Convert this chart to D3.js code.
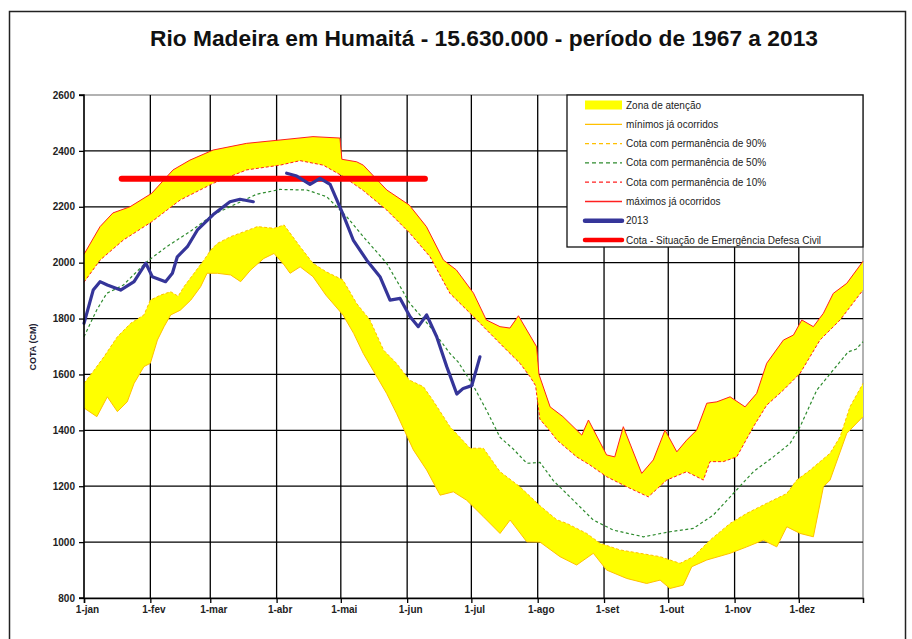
<!DOCTYPE html>
<html><head><meta charset="utf-8">
<script src="https://cdn.jsdelivr.net/npm/d3@7"></script>
<style>body{margin:0;background:#fff}svg{display:block}</style>
</head><body>
<svg id="c" width="912" height="639"></svg>
<script>
// ---------- data ----------
const titleText = "Rio Madeira  em Humaitá  - 15.630.000  - período  de 1967  a 2013";
const monthStarts = [0,31,59,90,120,151,181,212,243,273,304,334];
const monthLabels = ["1-jan","1-fev","1-mar","1-abr","1-mai","1-jun","1-jul","1-ago","1-set","1-out","1-nov","1-dez"];
const yTicks = [800,1000,1200,1400,1600,1800,2000,2200,2400,2600];

// máximos já ocorridos
const maxDays = [0,7.5,13.5,21.5,31.6,41.6,49.5,60.3,76,91.6,107,119.6,120.5,127.4,130.5,141.5,152,160,168,174,182,188,194.4,199,203,211.5,212.6,217.8,223.8,232.6,235.7,244.2,248,252,260.6,266,271.5,277,281.6,286.3,291,295.7,301.9,308.9,314.3,319,326.8,331.5,335.4,340.8,345.5,350.1,356.4,364];
const maxVals = [2030,2129,2178,2200,2248,2332,2367,2403,2427,2439,2451,2446,2370,2361,2349,2260,2206,2129,2009,1974,1891,1795,1771,1766,1810,1699,1600,1484,1449,1383,1437,1312,1305,1413,1246,1294,1401,1323,1365,1401,1497,1502,1520,1484,1532,1640,1723,1741,1795,1771,1819,1890,1926,2005];

// cota com permanência de 10%
const p10Days = [0,7.5,18.4,31.6,44.9,60.4,76,91.6,101,111.8,121.2,130.5,141.5,152.3,161.7,171,180.4,189.7,197.5,203.7,208.4,211,213,218,221,230.2,236.4,244.2,253.6,263.7,272.3,281.6,289.4,292.5,298.7,305,312.8,319,326.8,334.6,343.9,353.3,364];
const p10Vals = [1930,2009,2081,2146,2224,2284,2332,2349,2365,2349,2308,2258,2188,2105,2021,1890,1819,1747,1687,1640,1592,1560,1440,1395,1365,1305,1276,1234,1198,1162,1222,1252,1222,1288,1288,1305,1413,1490,1544,1604,1723,1795,1902];

// cota com permanência de 50%
const p50Days = [0,5.9,10.6,18.4,29.3,38.6,49.5,60.4,80.7,91.6,104.1,113.4,122.8,130.5,141.4,152.3,161.7,171,174.8,181.9,188.2,194.4,200.6,206.9,213.1,219.3,228.6,238,247.3,261.4,273.8,284.7,294.1,303.4,312.8,322.1,329.9,334.6,342.4,350.1,357.1,360.7,364];
const p50Vals = [1735,1830,1890,1920,2003,2057,2111,2172,2245,2262,2260,2236,2164,2093,1998,1854,1771,1675,1645,1560,1470,1375,1333,1282,1285,1220,1150,1079,1043,1019,1037,1049,1097,1174,1252,1305,1353,1413,1544,1616,1681,1690,1717];

// cota com permanência de 90%
const p90Days = [0,4.7,9.3,15.6,21.8,28,31,35.8,40.5,44,46.7,51.4,56,59.2,62.3,68.5,74.8,81,88.8,93.5,101,107,113,121,127.4,133.6,140,146,152,158.6,163,171,180.4,186.6,194.4,203.7,213.1,220.9,225.6,234.9,241.1,250.5,259.8,269.2,278.5,284.7,292.5,301.9,309.7,319,328.4,333,339.3,348.6,353.3,357.9,364];
const p90Vals = [1568,1615,1663,1735,1783,1813,1866,1884,1896,1880,1914,1962,2009,2045,2069,2093,2111,2129,2123,2135,2057,1998,1968,1938,1854,1795,1687,1640,1580,1556,1508,1413,1336,1336,1252,1198,1130,1080,1067,1031,996,972,960,948,924,948,1007,1067,1103,1139,1174,1222,1258,1318,1377,1484,1568];

// mínimos já ocorridos
const minDays = [0,6,10.9,15.6,20.2,23.4,28,31,34.3,37.4,40.5,45,49.9,54.5,57.5,62.3,68.5,73.2,77.9,84,88.8,93.5,96.3,101,107,113,121,126,130.5,135,141.4,146,153.9,160.1,166.4,172.6,178.8,186.6,194.4,199.1,206.9,213.1,222.4,230.2,238,244.2,253.6,262.9,269.2,273.8,280,284,291,301.9,309.7,317.4,323.7,328.4,334.6,340.8,345.5,348.6,356.4,364];
const minVals = [1480,1449,1520,1467,1502,1568,1628,1640,1723,1771,1813,1830,1866,1914,1962,1962,1956,1932,1974,2015,2033,1992,1962,1985,1950,1884,1813,1747,1675,1616,1532,1461,1330,1258,1168,1180,1150,1091,1031,1079,1001,1000,948,918,960,900,870,852,864,834,846,912,936,960,983,1007,983,1055,1031,1019,1198,1222,1389,1449];

// 2013 (null = sem dado)
const y2013Days = [0,4.3,7.5,10.9,17.1,23.4,28.9,31.9,38.1,41.3,43.6,48.3,53,60.4,68.2,72.9,79.1,87,94.7,99.4,105.6,110.3,115,121.2,125.8,132.1,138.3,143,147.7,152.3,156.2,160.1,164.8,169.5,174.2,177.2,181.2,185];
const y2013Vals = [1783,1902,1932,1920,1902,1932,1998,1950,1932,1962,2021,2057,2117,2172,2218,2227,2218,null,2320,2310,2280,2302,2280,2170,2081,2009,1950,1866,1872,1807,1771,1813,1735,1628,1530,1550,1560,1663];

// cota de emergência
const emergDays = [17.6,159.3];
const emergVals = [2300,2300];

const legendLabels = ["Zona de atenção","mínimos já ocorridos","Cota com permanência de 90%","Cota com permanência de 50%","Cota com permanência de 10%","máximos já ocorridos","2013","Cota - Situação de Emergência Defesa Civil"];

// ---------- drawing ----------
const svg = d3.select("#c");
const W = 912, H = 639;
const m = {l:84, r:863, t:95, b:598};
const x = d3.scaleLinear().domain([0,364]).range([m.l, m.r]);
const y = d3.scaleLinear().domain([800,2600]).range([m.b, m.t]);
const font = "'Liberation Sans', Arial, sans-serif";

svg.append("rect").attr("width",W).attr("height",H).attr("fill","#fff");
// outer frame
svg.append("rect").attr("x",9.5).attr("y",11.5).attr("width",896).attr("height",700)
  .attr("fill","none").attr("stroke","#222").attr("stroke-width",1.5);

svg.append("text").attr("x",484).attr("y",46).attr("text-anchor","middle")
  .attr("font-family",font).attr("font-size",22).attr("font-weight","bold")
  .attr("textLength",668).attr("lengthAdjust","spacingAndGlyphs")
  .attr("fill","#111").text(titleText);

// plot area border (grey)
svg.append("rect").attr("x",m.l).attr("y",m.t).attr("width",m.r-m.l).attr("height",m.b-m.t)
  .attr("fill","#fff").attr("stroke","#999").attr("stroke-width",1.5);

// grid
const g = svg.append("g");
g.selectAll(".hg").data(yTicks.filter(v=>v>800 && v<2600)).enter().append("line")
  .attr("x1",m.l).attr("x2",m.r).attr("y1",d=>y(d)).attr("y2",d=>y(d))
  .attr("stroke","#000").attr("stroke-width",1.3);
g.selectAll(".vg").data(monthStarts.slice(1)).enter().append("line")
  .attr("x1",d=>x(d)).attr("x2",d=>x(d)).attr("y1",m.t).attr("y2",m.b)
  .attr("stroke","#000").attr("stroke-width",1.3);

const pts = (ds, vs) => ds.map((d,i)=>[d, vs[i]]);
const line = d3.line().defined(p=>p[1]!==null).x(p=>x(p[0])).y(p=>y(p[1]));

function band(topD, topV, botD, botV){
  const poly = pts(topD, topV).concat(pts(botD, botV).reverse());
  svg.append("path").attr("d", line(poly)+"Z").attr("fill","#FFFF00").attr("stroke","none");
}
band(maxDays, maxVals, p10Days, p10Vals);
band(p90Days, p90Vals, minDays, minVals);

function drawLine(ds, vs, color, w, dash, cap){
  svg.append("path").attr("d", line(pts(ds,vs))).attr("fill","none")
    .attr("stroke",color).attr("stroke-width",w)
    .attr("stroke-dasharray",dash||null).attr("stroke-linecap",cap||"butt")
    .attr("stroke-linejoin","round");
}
drawLine(minDays, minVals, "#FFC000", 1);
drawLine(p90Days, p90Vals, "#FFC000", 1, "3,2");
drawLine(p50Days, p50Vals, "#2E8B2E", 1.2, "3,2.5");
drawLine(p10Days, p10Vals, "#FF2020", 1, "3,2");
drawLine(maxDays, maxVals, "#FF2020", 1);
drawLine(emergDays, emergVals, "#FF0000", 6, null, "round");
drawLine(y2013Days, y2013Vals, "#353599", 3.2, null, "round");

// axes
const yAxis = d3.axisLeft(y).tickValues(yTicks).tickSize(5).tickPadding(4).tickFormat(d3.format("d"));
const ya = svg.append("g").attr("transform",`translate(${m.l},0)`).call(yAxis);
const xAxis = d3.axisBottom(x).tickValues(monthStarts).tickSize(5).tickPadding(3).tickFormat((d,i)=>monthLabels[i]);
const xa = svg.append("g").attr("transform",`translate(0,${m.b})`).call(xAxis);
[ya, xa].forEach(a=>{
  a.select(".domain").attr("stroke","#000").attr("stroke-width",1.5);
  a.selectAll(".tick line").attr("stroke","#000").attr("stroke-width",1.3);
  a.selectAll("text").attr("font-family",font).attr("font-size",10).attr("font-weight","bold").attr("fill","#222");
});
xa.selectAll("text").attr("dx",3);
ya.select(".domain").attr("d",`M-5,${m.b}H0V${m.t}H-5`);

svg.append("text").attr("transform",`translate(36,347) rotate(-90)`).attr("text-anchor","middle")
  .attr("font-family",font).attr("font-size",9).attr("font-weight","bold").attr("fill","#223")
  .text("COTA (CM)");

// legend
const L = {x:567, y:95, w:296, h:152};
const lg = svg.append("g");
lg.append("rect").attr("x",L.x).attr("y",L.y).attr("width",L.w).attr("height",L.h)
  .attr("fill","#fff").attr("stroke","#111").attr("stroke-width",1.3);
const rowY = i => 105 + i*19.3;
const sx0 = 585, sx1 = 622;
const legendStyles = [null,
  {c:"#FFC000",w:1.3,d:null},
  {c:"#FFC000",w:1.3,d:"4,3"},
  {c:"#2E8B2E",w:1.3,d:"4,3"},
  {c:"#FF2020",w:1.3,d:"4,3"},
  {c:"#FF2020",w:1.3,d:null},
  {c:"#353599",w:4.5,d:null,cap:"round"},
  {c:"#FF0000",w:4.5,d:null,cap:"round"}];
legendLabels.forEach((lab,i)=>{
  const yy = rowY(i);
  if(i===0){
    lg.append("rect").attr("x",sx0).attr("y",yy-4.5).attr("width",sx1-sx0).attr("height",9).attr("fill","#FFFF00");
  } else {
    const st = legendStyles[i];
    lg.append("line").attr("x1",sx0).attr("x2",sx1).attr("y1",yy).attr("y2",yy)
      .attr("stroke",st.c).attr("stroke-width",st.w).attr("stroke-dasharray",st.d)
      .attr("stroke-linecap",st.cap||"butt");
  }
  lg.append("text").attr("x",626).attr("y",yy+3.5).attr("font-family",font).attr("font-size",10)
    .attr("fill","#222").text(lab);
});
</script>
</body></html>
